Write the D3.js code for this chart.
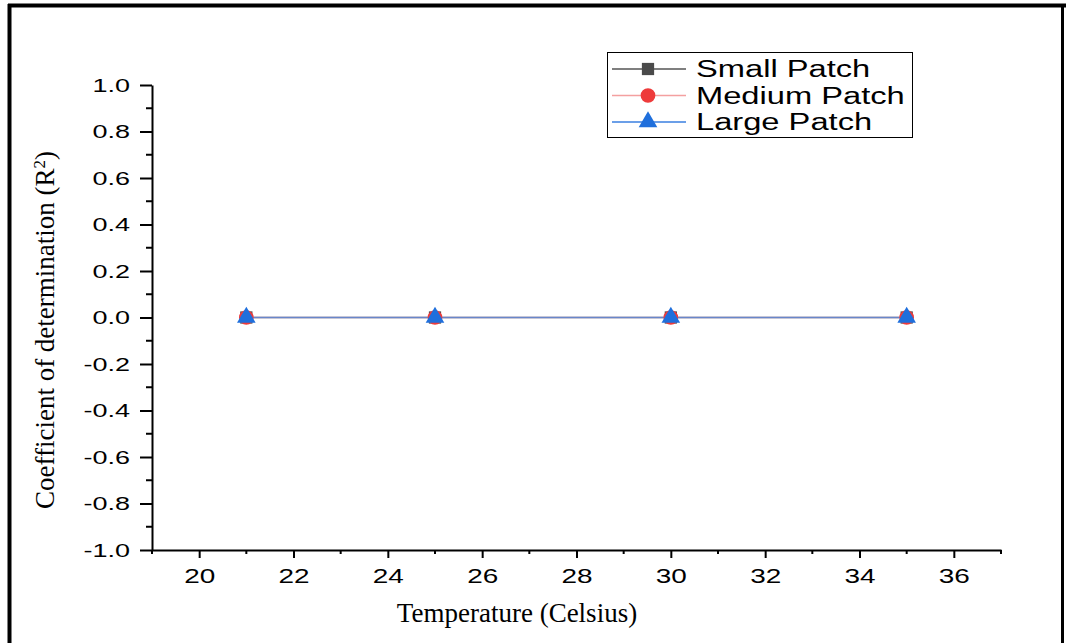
<!DOCTYPE html>
<html><head><meta charset="utf-8">
<script src="https://cdn.jsdelivr.net/npm/d3@7"></script>
<style>body{margin:0;background:#fff}svg{display:block}</style>
</head><body>
<svg id="c" width="1066" height="643"></svg>
<script>
const temperatures = [21, 25, 30, 35];
const smallPatch = [0, 0, 0, 0];
const mediumPatch = [0, 0, 0, 0];
const largePatch = [0, 0, 0, 0];
const seriesNames = ["Small Patch", "Medium Patch", "Large Patch"];
const xTicks = [20, 22, 24, 26, 28, 30, 32, 34, 36];
const yTicks = [1.0, 0.8, 0.6, 0.4, 0.2, 0.0, -0.2, -0.4, -0.6, -0.8, -1.0];

const svg = d3.select("#c");
const x = d3.scaleLinear().domain([19, 37]).range([152, 1001]);
const y = d3.scaleLinear().domain([-1, 1]).range([550, 85]);

function stretch(sel, k) {
  sel.each(function() {
    const w = this.getComputedTextLength();
    d3.select(this).attr("textLength", w * k).attr("lengthAdjust", "spacingAndGlyphs");
  });
}

// outer frame
svg.append("line").attr("x1",8).attr("x2",1066).attr("y1",5.5).attr("y2",5.5).attr("stroke","#000").attr("stroke-width",4);
svg.append("line").attr("x1",9.5).attr("x2",9.5).attr("y1",4).attr("y2",643).attr("stroke","#000").attr("stroke-width",4);
svg.append("line").attr("x1",1062.5).attr("x2",1062.5).attr("y1",4).attr("y2",643).attr("stroke","#000").attr("stroke-width",3);

const font = "'Liberation Sans', Arial, sans-serif";
const serif = "'Liberation Serif', 'Times New Roman', serif";

// x axis
const xAxis = d3.axisBottom(x).tickValues(xTicks).tickFormat(d3.format("d")).tickSize(8).tickSizeOuter(0);
const gx = svg.append("g").attr("transform","translate(0,550)").call(xAxis);
gx.select(".domain").attr("stroke","#000").attr("stroke-width",2);
gx.selectAll(".tick line").attr("stroke-width",2);
gx.selectAll("text").attr("font-family",font).attr("font-size",21).attr("fill","#000").attr("y",33).attr("dy",0);
stretch(gx.selectAll("text"), 1.33);
const xMinor = d3.range(19, 38, 2);
gx.selectAll(".minor").data(xMinor).enter().append("line").attr("class","minor")
  .attr("x1",d=>x(d)).attr("x2",d=>x(d)).attr("y1",0).attr("y2",4).attr("stroke","#000").attr("stroke-width",2);

// y axis
const yAxis = d3.axisLeft(y).tickValues(yTicks).tickFormat(d3.format(".1f")).tickSize(12).tickSizeOuter(0);
const gy = svg.append("g").attr("transform","translate(152,0)").call(yAxis);
gy.select(".domain").attr("stroke","#000").attr("stroke-width",2);
gy.selectAll(".tick line").attr("stroke-width",2);
gy.selectAll("text").attr("font-family",font).attr("font-size",19).attr("fill","#000").attr("x",-22)
  .text(d=>d3.format(".1f")(d).replace("−","-"));
stretch(gy.selectAll("text"), 1.42);
const yMinor = d3.range(-9, 10, 2).map(v=>v/10);
gy.selectAll(".minor").data(yMinor).enter().append("line").attr("class","minor")
  .attr("x1",0).attr("x2",-6).attr("y1",d=>y(d)).attr("y2",d=>y(d)).attr("stroke","#000").attr("stroke-width",2);

// titles
svg.append("text").attr("x",517).attr("y",622).attr("text-anchor","middle")
  .attr("font-family",serif).attr("font-size",27).text("Temperature (Celsius)");
const yt = svg.append("text").attr("transform","translate(54,330) rotate(-90)").attr("text-anchor","middle")
  .attr("font-family",serif).attr("font-size",27);
yt.append("tspan").text("Coefficient of determination (R");
yt.append("tspan").attr("baseline-shift","super").attr("font-size",17).text("2");
yt.append("tspan").text(")");

// series
const series = [
  {name: seriesNames[0], values: smallPatch, color: "#4a4a4a", line: "#555", sym: d3.symbolSquare, size: 150},
  {name: seriesNames[1], values: mediumPatch, color: "#ee3b3b", line: "#f4a0a0", sym: d3.symbolCircle, size: 170},
  {name: seriesNames[2], values: largePatch, color: "#1f6fdc", line: "#3a7fe0", sym: d3.symbolTriangle, size: 150}
];
const lineGen = d3.line().x((d,i)=>x(temperatures[i])).y(d=>y(d));
series.forEach(s=>{
  svg.append("path").datum(s.values).attr("d",lineGen).attr("fill","none").attr("stroke",s.line).attr("stroke-width",1.3).attr("opacity",0.7);
});
series.forEach(s=>{
  svg.selectAll(null).data(s.values).enter().append("path")
    .attr("d", d3.symbol().type(s.sym).size(s.size))
    .attr("transform",(d,i)=>`translate(${x(temperatures[i])},${y(d)})`)
    .attr("fill",s.color);
});

// legend
const lg = svg.append("g");
lg.append("rect").attr("x",607.5).attr("y",52.5).attr("width",305).attr("height",85).attr("fill","#fff").attr("stroke","#000").attr("stroke-width",1);
series.forEach((s,i)=>{
  const yy = 69 + i*26.5;
  lg.append("line").attr("x1",612).attr("x2",686).attr("y1",yy).attr("y2",yy).attr("stroke",s.line).attr("stroke-width",1.5);
  lg.append("path").attr("d",d3.symbol().type(s.sym).size(s.size)).attr("transform",`translate(648,${yy})`).attr("fill",s.color);
  const t = lg.append("text").attr("x",696).attr("y",yy+8).attr("font-family",font).attr("font-size",23).attr("fill","#000").text(s.name);
  stretch(t, 1.42);
});
</script>
</body></html>
